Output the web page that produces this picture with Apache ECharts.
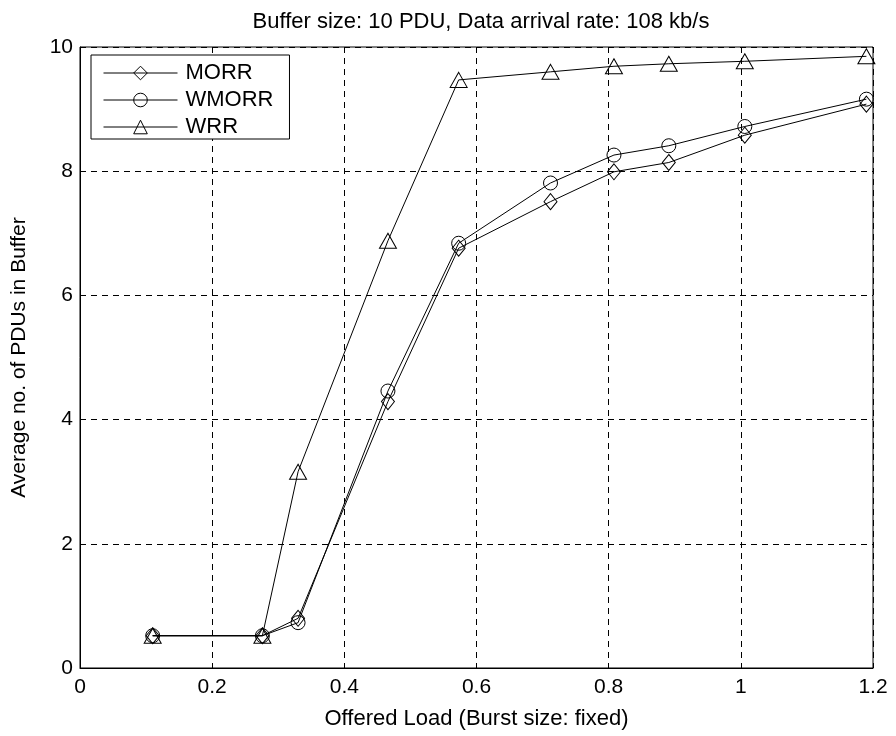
<!DOCTYPE html>
<html>
<head>
<meta charset="utf-8">
<script src="https://cdn.jsdelivr.net/npm/echarts@6/dist/echarts.min.js"></script>
<style>
  html, body { margin: 0; padding: 0; background: #fff; }
  #chart { width: 896px; height: 736px; }
</style>
</head>
<body>
<div id="chart"></div>
<script>
const offeredLoad = [0.11, 0.276, 0.33, 0.466, 0.573, 0.712, 0.808, 0.891, 1.006, 1.19];
const morr = [0.52, 0.52, 0.8, 4.29, 6.76, 7.51, 7.99, 8.14, 8.58, 9.08];
const wmorr = [0.52, 0.52, 0.73, 4.46, 6.84, 7.81, 8.26, 8.41, 8.72, 9.16];
const wrr = [0.52, 0.52, 3.16, 6.88, 9.47, 9.6, 9.69, 9.73, 9.77, 9.85];

const FONT = "Arial, 'Liberation Sans', sans-serif";

const chart = echarts.init(document.getElementById("chart"));

const pair = (ys) => offeredLoad.map((x, i) => [x, ys[i]]);

const mkSeries = (name, symbol, size, ys) => ({
  name,
  type: "line",
  data: pair(ys),
  symbol,
  symbolSize: size,
  showAllSymbol: true,
  lineStyle: { color: "#000", width: 1 },
  itemStyle: { color: "rgba(0,0,0,0)", borderColor: "#000", borderWidth: 1 },
  emphasis: { disabled: true },
  z: 3,
});

const gridLine = { show: true, lineStyle: { color: "#000", type: [6, 5], width: 1 } };

chart.setOption({
  animation: false,
  textStyle: { fontFamily: FONT },
  title: {
    text: "Buffer size: 10 PDU, Data arrival rate: 108 kb/s",
    left: 476,
    textAlign: "center",
    top: 6,
    textStyle: { fontSize: 22, fontWeight: "normal", color: "#000", fontFamily: FONT },
  },
  grid: {
    left: 80,
    right: 23,
    top: 47,
    bottom: 68,
    show: true,
    borderColor: "#000",
    borderWidth: 1,
    backgroundColor: "#fff",
  },
  legend: {
    left: 91,
    top: 55,
    orient: "vertical",
    itemWidth: 74,
    itemHeight: 17,
    itemGap: 5,
    padding: [7, 16, 1, 12],
    borderColor: "#000",
    borderWidth: 1,
    backgroundColor: "#fff",
    lineStyle: { width: 1 },
    itemStyle: { borderWidth: 1 },
    textStyle: { fontSize: 22, color: "#000", fontFamily: FONT, padding: [0, 0, 0, 3] },
    data: ["MORR", "WMORR", "WRR"],
  },
  xAxis: {
    type: "value",
    min: 0,
    max: 1.2,
    interval: 0.2,
    name: "Offered Load (Burst size: fixed)",
    nameLocation: "middle",
    nameGap: 40,
    nameTextStyle: { fontSize: 22, color: "#000" },
    axisLine: { show: true, lineStyle: { color: "#000" } },
    axisTick: { show: true, inside: true, length: 5, lineStyle: { color: "#000" } },
    axisLabel: { fontSize: 21, color: "#000", margin: 9 },
    splitLine: gridLine,
  },
  yAxis: {
    type: "value",
    min: 0,
    max: 10,
    interval: 2,
    name: "Average no. of PDUs in Buffer",
    nameLocation: "middle",
    nameGap: 50,
    nameTextStyle: { fontSize: 21, color: "#000" },
    axisLine: { show: true, lineStyle: { color: "#000" } },
    axisTick: { show: true, inside: true, length: 5, lineStyle: { color: "#000" } },
    axisLabel: { fontSize: 21, color: "#000", margin: 7 },
    splitLine: gridLine,
  },
  series: [
    mkSeries("MORR", "diamond", [13, 16], morr),
    mkSeries("WMORR", "circle", 14, wmorr),
    mkSeries("WRR", "triangle", [17, 15], wrr),
  ],
});
</script>
</body>
</html>
